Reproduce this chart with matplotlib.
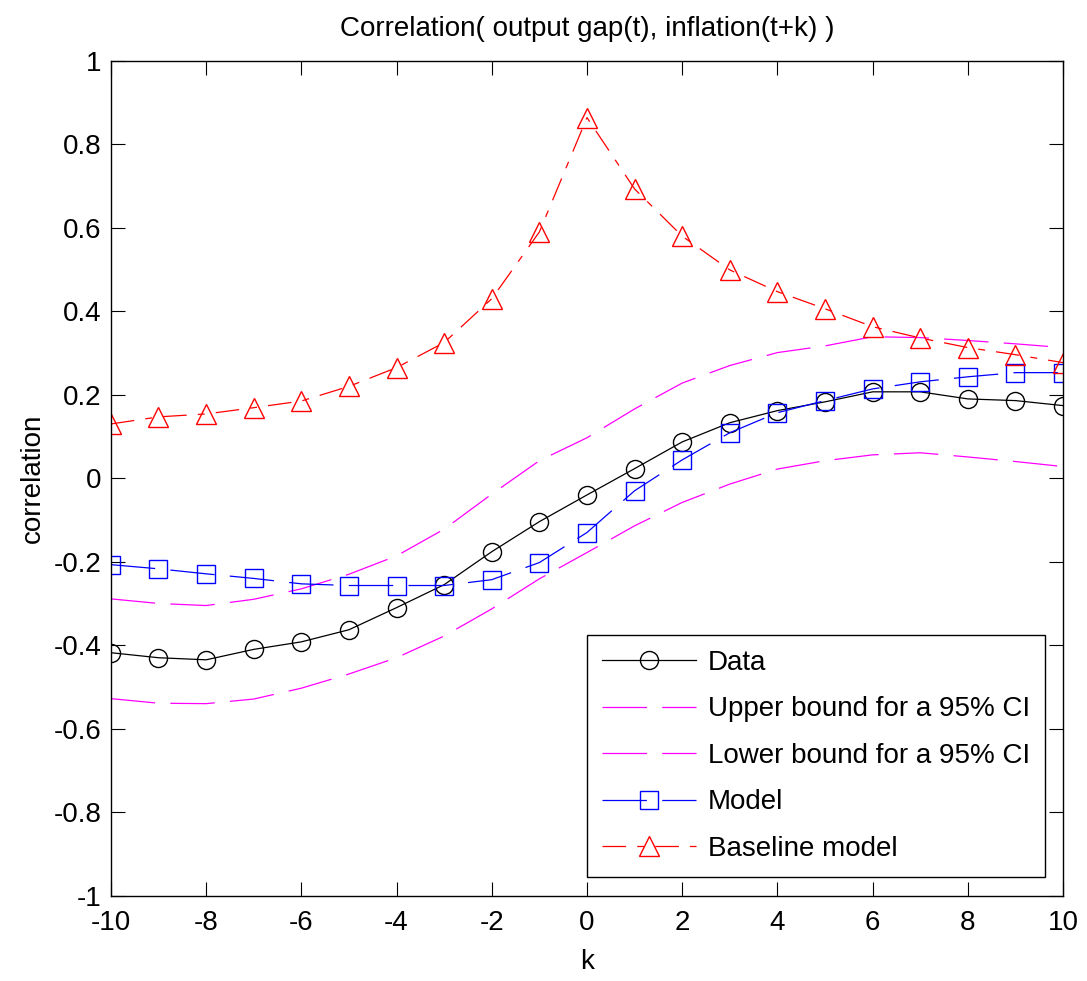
import numpy as np
import matplotlib
matplotlib.use("Agg")
import matplotlib.pyplot as plt
from matplotlib.ticker import FormatStrFormatter

k = list(range(-10, 11))

data = [-0.418, -0.430, -0.435, -0.410, -0.392, -0.363, -0.310, -0.255, -0.176, -0.104,
        -0.040, 0.023, 0.087, 0.133, 0.162, 0.183, 0.207, 0.207, 0.190, 0.186, 0.174]
upper = [-0.289, -0.300, -0.305, -0.290, -0.265, -0.230, -0.186, -0.122, -0.038, 0.042,
         0.097, 0.166, 0.228, 0.270, 0.301, 0.317, 0.339, 0.337, 0.330, 0.322, 0.313]
lower = [-0.528, -0.539, -0.540, -0.529, -0.503, -0.469, -0.430, -0.378, -0.313, -0.241,
         -0.178, -0.114, -0.058, -0.014, 0.022, 0.042, 0.056, 0.061, 0.051, 0.040, 0.028]
model = [-0.207, -0.217, -0.229, -0.240, -0.253, -0.257, -0.257, -0.257, -0.243, -0.202,
         -0.130, -0.030, 0.044, 0.109, 0.157, 0.186, 0.214, 0.231, 0.243, 0.253, 0.253]
baseline = [0.130, 0.147, 0.154, 0.169, 0.185, 0.220, 0.265, 0.325, 0.430, 0.590,
            0.864, 0.693, 0.580, 0.499, 0.447, 0.406, 0.363, 0.336, 0.313, 0.296, 0.277]

plt.rcParams['font.family'] = ['Liberation Sans', 'DejaVu Sans']
plt.rcParams['axes.unicode_minus'] = False
plt.rcParams['lines.scale_dashes'] = False

fig = plt.figure(figsize=(10.87, 9.81), dpi=100)
ax = fig.add_axes([0.102, 0.087, 0.876, 0.851])

lw = 0.9
ax.plot(k, data, color='black', lw=lw, marker='o', ms=13, mfc='none', mew=1.0, label='Data')
ax.plot(k, upper, color='#ff00ff', lw=lw, dashes=(32, 11), label='Upper bound for a 95% CI')
ax.plot(k, lower, color='#ff00ff', lw=lw, dashes=(32, 11), label='Lower bound for a 95% CI')
ax.plot(k, model, color='blue', lw=lw, marker='s', ms=12.5, mfc='none', mew=1.0,
        dashes=(32, 11), label='Model')
ax.plot(k, baseline, color='red', lw=lw, marker='^', ms=15, mfc='none', mew=1.0,
        dashes=(17, 8, 5, 8), label='Baseline model')

ax.set_xlim(-10, 10)
ax.set_ylim(-1, 1)
ax.set_xticks(np.arange(-10, 11, 2))
ax.set_yticks(np.round(np.linspace(-1, 1, 11), 1))
ax.yaxis.set_major_formatter(FormatStrFormatter('%g'))
ax.xaxis.set_major_formatter(FormatStrFormatter('%g'))
ax.tick_params(direction='in', top=True, right=True, length=10, width=0.8,
               labelsize=20, pad=7)
ax.tick_params(axis='x', pad=10)
for s in ax.spines.values():
    s.set_linewidth(1.0)

ax.set_title('Correlation( output gap(t), inflation(t+k) )', fontsize=20, pad=18)
ax.set_xlabel('k', fontsize=20, labelpad=10)
ax.set_ylabel('correlation', fontsize=20, labelpad=5)

leg = ax.legend(loc='lower right', bbox_to_anchor=(0.981, 0.022), borderaxespad=0,
                fontsize=20, fancybox=False, edgecolor='black', framealpha=1,
                handlelength=3.4, handletextpad=0.4, labelspacing=0.74, borderpad=0.55)
leg.get_frame().set_linewidth(1.0)

fig.savefig('out.png', dpi=100)
